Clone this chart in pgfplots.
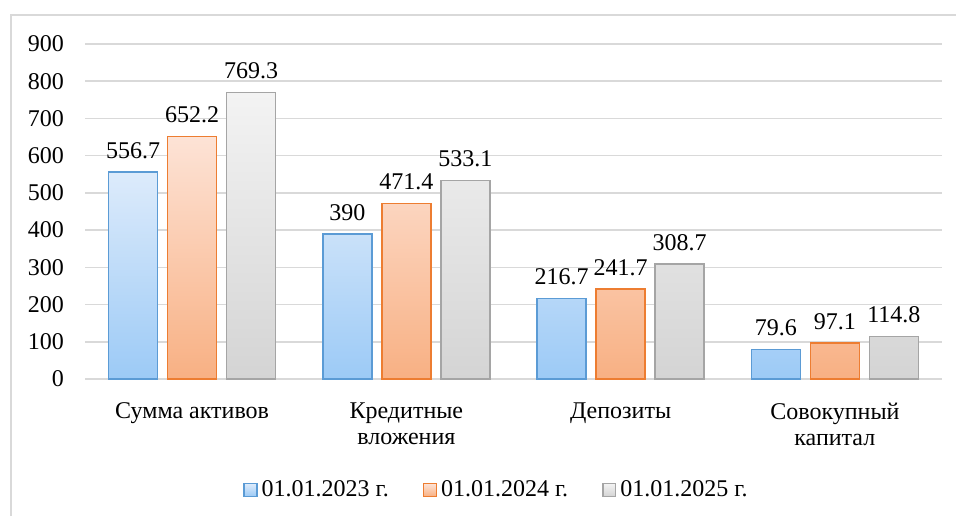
\documentclass[border=0pt]{standalone}
\usepackage{fontspec}
\setmainfont{Liberation Serif}
\usepackage{pgfplots}
\pgfplotsset{compat=1.18}

\definecolor{bluetop}{HTML}{DDEBFB}
\definecolor{bluebot}{HTML}{9CCAF6}
\definecolor{blueedge}{HTML}{5B9BD5}
\definecolor{orangetop}{HTML}{FDE3D6}
\definecolor{orangebot}{HTML}{F8B083}
\definecolor{orangeedge}{HTML}{ED7D31}
\definecolor{graytop}{HTML}{F3F3F3}
\definecolor{graybot}{HTML}{D4D4D4}
\definecolor{grayedge}{HTML}{A5A5A5}
\definecolor{gridgray}{HTML}{D9D9D9}

\begin{document}
\begin{tikzpicture}
% 1 px of the reference = 0.5pt; axis origin at pixel (85,379)
\path[use as bounding box] (-42.5pt,-68.5pt) rectangle (435.5pt,189.5pt);
\draw[gridgray, line width=0.8pt] (-37pt,-68.5pt) -- (-37pt,182pt) -- (435.5pt,182pt);
\begin{axis}[
    at={(0pt,0pt)}, anchor=south west,
    scale only axis,
    width=428.5pt, height=167.5pt,
    ybar, bar width=24.5pt,
    xmin=-0.5, xmax=3.5,
    ymin=0, ymax=900,
    ytick={0,100,...,900},
    yticklabel={\fontsize{12}{12}\selectfont\pgfmathprintnumber[assume math mode=true]{\tick}},
    xtick={0,1,2,3},
    xticklabels={Сумма активов, Кредитные\\вложения, Депозиты, Совокупный\\капитал},
    xticklabel style={align=center, yshift=-8.5pt, font=\fontsize{12}{13}\selectfont},
    yticklabel style={xshift=-7pt},
    /pgf/number format/assume math mode=true,
    axis line style={draw=none},
    major tick length=0pt,
    ymajorgrids, grid style={gridgray, line width=0.8pt},
    nodes near coords,
    nodes near coords style={font=\fontsize{12}{12}\selectfont, yshift=3pt},
    every node near coord/.append style={/pgf/number format/assume math mode=true},
    legend style={draw=none, at={(0.5,0)}, anchor=center, yshift=-55.5pt, xshift=-8pt,
        legend columns=3, /tikz/every even column/.append style={column sep=15pt},
        font=\fontsize{12}{12}\selectfont, inner sep=0pt},
    legend image code/.code={\draw[#1, line width=0.7pt] (0pt,-3.2pt) rectangle (6.4pt,3.2pt);},
    font=\fontsize{12}{12}\selectfont,
]
\addplot[bar shift=-29.5pt, draw=blueedge, line width=0.7pt, top color=bluetop, bottom color=bluebot]
    coordinates {(0,556.7) (1,390) (2,216.7) (3,79.6)};
\addplot[bar shift=0pt, draw=orangeedge, line width=0.7pt, top color=orangetop, bottom color=orangebot]
    coordinates {(0,652.2) (1,471.4) (2,241.7) (3,97.1)};
\addplot[bar shift=29.5pt, draw=grayedge, line width=0.7pt, top color=graytop, bottom color=graybot]
    coordinates {(0,769.3) (1,533.1) (2,308.7) (3,114.8)};
\legend{01.01.2023 г., 01.01.2024 г., 01.01.2025 г.}
\end{axis}
\end{tikzpicture}
\end{document}
